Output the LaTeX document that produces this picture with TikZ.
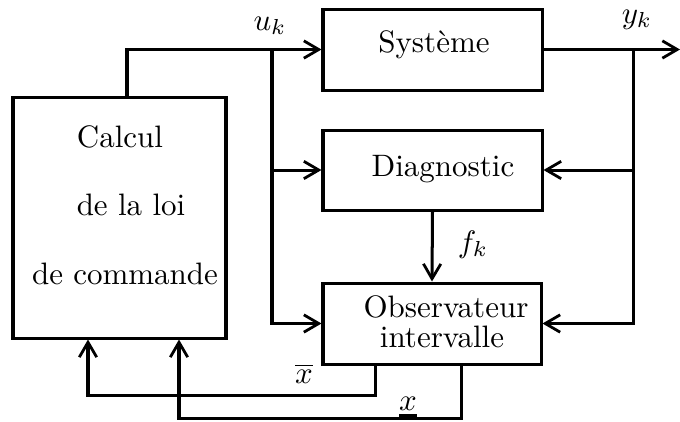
\documentclass[tikz,border=0pt]{standalone}
\usetikzlibrary{arrows.meta}
\newcommand\pxu{0.3226pt}
\newcommand\thickunder[1]{{\setbox0\hbox{#1}\rlap{\rule[-2.3pt]{\wd0}{0.95pt}}\box0}}
\begin{document}
\begin{tikzpicture}[x=\pxu,y=-\pxu,
  box/.style={draw,line width=0.97pt,inner sep=0pt},
  lbl/.style={inner sep=0pt,anchor=base},
  wire/.style={line width=0.97pt},
  arr/.style={wire,-{Straight Barb[length=4.8pt,width=5.6pt,line width=0.9pt]}}]
\useasboundingbox (0,0) rectangle (680,421);
% boxes
\node[box,minimum width=213*\pxu,minimum height=241*\pxu] (L) at (119.5,217.5) {};
\node[box,minimum width=219*\pxu,minimum height=81*\pxu] (S) at (432.5,49.5) {};
\node[box,minimum width=219*\pxu,minimum height=80*\pxu] (D) at (432.5,170) {};
\node[box,minimum width=218*\pxu,minimum height=81*\pxu] (O) at (432,323.5) {};
% texts
\node[lbl] (t1) at (120,147) {Calcul};
\node[lbl] (t2) at (131,215) {de la loi};
\node[lbl] (t3) at (125,284) {de commande};
\node[lbl] (t4) at (434,52) {Syst\`eme};
\node[lbl] (t5) at (443,176) {Diagnostic};
\node[lbl] (t6) at (446,317) {Observateur};
\node[lbl] (t7) at (442,347) {intervalle};
\node[lbl] (uk) at (270,30) {$u_k$};
\node[lbl] (yk) at (637,23) {$y_k$};
\node[lbl] (fk) at (473,252) {$f_k$};
\node[lbl] (xo) at (304,383) {$\overline{x}$};
\node[lbl] (xu) at (408,410) {\thickunder{$x$}};
% coordinates
\coordinate (lo) at (127,0);
\coordinate (bu) at (272,50);
\coordinate (by) at (633,50);
\coordinate (yout) at (680,0);
\coordinate (xb) at (375,395);
\coordinate (xbl) at (88,395);
\coordinate (xu1) at (461,418);
\coordinate (xu2) at (179,418);
% connectors
\draw[arr] (L.north -| lo) |- (S.west);
\draw[arr] (bu) |- (D.west);
\draw[arr] (bu) |- (O.west);
\draw[arr] (S.east) -- (S.east -| yout);
\draw[arr] (by) |- (D.east);
\draw[arr] (by) |- (O.east);
\draw[arr] (D.south) -- (O.north);
\draw[arr] (O.south -| xb) -- (xb) -- (xbl) -- (L.south -| xbl);
\draw[arr] (O.south -| xu1) -- (xu1) -- (xu2) -- (L.south -| xu2);
\end{tikzpicture}
\end{document}
